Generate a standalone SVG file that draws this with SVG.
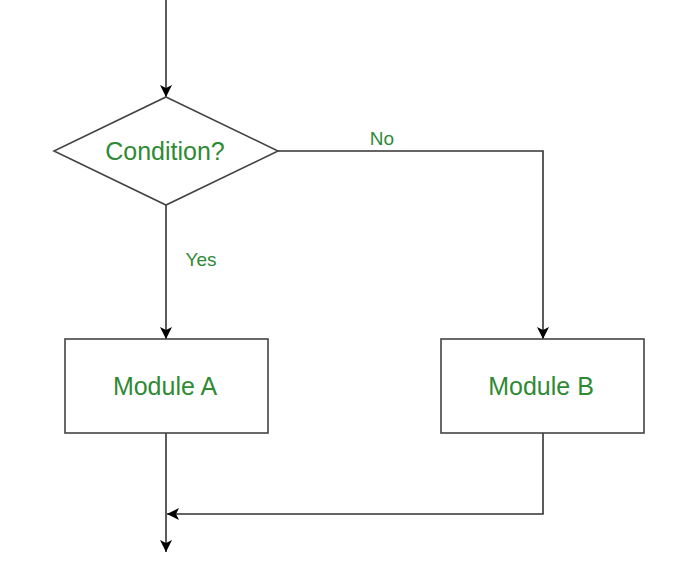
<svg xmlns="http://www.w3.org/2000/svg" width="680" height="566" viewBox="0 0 680 566">
<style>
.shape{fill:#fff;stroke:#444;stroke-width:1.6}
.conn{fill:none;stroke:#333;stroke-width:1.6}
.lbl{font-family:"Liberation Sans",Arial,sans-serif;fill:#2f8a35;text-anchor:middle}
.big{font-size:25px}
.small{font-size:19px}
</style>
<defs>
<marker id="arr" viewBox="0 0 12 12" refX="12" refY="6" markerWidth="12" markerHeight="12" markerUnits="userSpaceOnUse" orient="auto">
<path d="M0,0 L12,6 L0,12 L3,6 Z" fill="#000"/>
</marker>
</defs>
<rect width="680" height="566" fill="#fff"/>
<g id="connectors">
<path class="conn" d="M166,0 V97" marker-end="url(#arr)"/>
<path class="conn" d="M166,205 V339" marker-end="url(#arr)"/>
<path class="conn" d="M278,151 H543 V339" marker-end="url(#arr)"/>
<path class="conn" d="M166,433 V552" marker-end="url(#arr)"/>
<path class="conn" d="M543,433 V514 H167" marker-end="url(#arr)"/>
<text class="lbl small" x="201" y="266">Yes</text>
<text class="lbl small" x="382" y="145">No</text>
</g>
<g id="condition">
<polygon class="shape" points="166,97 278,151 166,205 54,151"/>
<text class="lbl big" x="165" y="160">Condition?</text>
</g>
<g id="moduleA">
<rect class="shape" x="65" y="339" width="203" height="94"/>
<text class="lbl big" x="165" y="395">Module A</text>
</g>
<g id="moduleB">
<rect class="shape" x="441" y="339" width="203" height="94"/>
<text class="lbl big" x="541" y="395">Module B</text>
</g>
</svg>
